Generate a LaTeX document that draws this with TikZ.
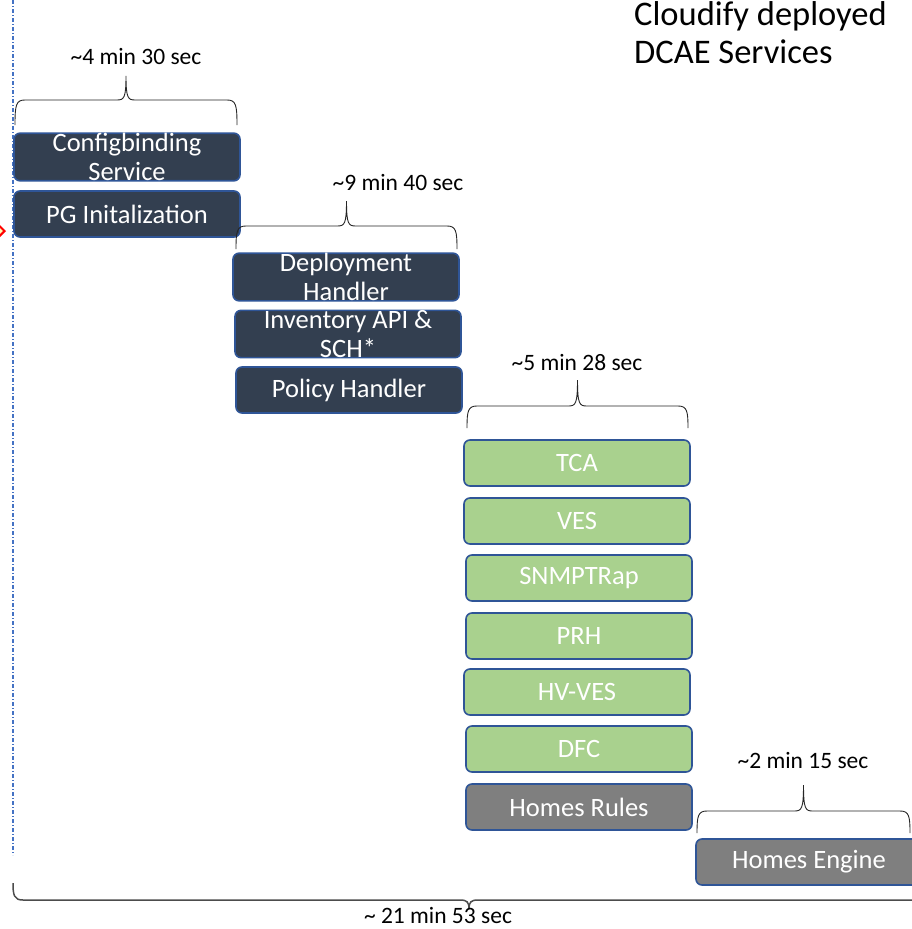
\documentclass[tikz,border=0pt]{standalone}
\usepackage{fontspec}
\setmainfont{Carlito}
\usetikzlibrary{shapes.geometric,calc}
\definecolor{navy}{HTML}{333F50}
\definecolor{bord}{HTML}{2F5597}
\definecolor{grn}{HTML}{A9D18E}
\definecolor{gry}{HTML}{7F7F7F}
\definecolor{vline}{HTML}{4472C4}
\tikzset{
  svc/.style={draw=bord, line width=1.6pt, rounded corners=6pt, minimum width=226pt, minimum height=46pt,
    inner sep=0pt, text=white, align=center, font=\fontsize{26.5}{29}\selectfont},
  darkbox/.style={svc, fill=navy},
  greenbox/.style={svc, fill=grn},
  graybox/.style={svc, fill=gry},
  bracelbl/.style={font=\fontsize{23.5}{27}\selectfont, text=black, inner sep=0pt},
  bracepen/.style={draw=black!85, line width=0.9pt},
}
% brace: xL xR yEnd yHoriz yTip
\newcommand\mybrace[6][bracepen]{%
  \pgfmathsetmacro\bxc{(#2+#3)/2}%
  \pgfmathsetmacro\bdir{(#6<#5)?1:-1}%
  \draw[#1] (#2,#4) .. controls (#2,#5+\bdir*5) and (#2+1,#5) .. (#2+10,#5)
    -- (\bxc-9,#5) .. controls (\bxc-2,#5) and (\bxc,#5-\bdir*2) .. (\bxc,#6)
    .. controls (\bxc,#5-\bdir*2) and (\bxc+2,#5) .. (\bxc+9,#5)
    -- (#3-10,#5) .. controls (#3-1,#5) and (#3,#5+\bdir*5) .. (#3,#4);%
}
\begin{document}
\begin{tikzpicture}[x=1pt, y=-1pt]
\useasboundingbox (0,0) rectangle (912,929);
\fill[white] (0,0) rectangle (912,929);

% vertical dash-dot line
\coordinate (vtop) at (13,0);
\coordinate (vbot) at (13,855);
\draw[vline, line width=1.1pt, dash pattern=on 4pt off 2pt on 1pt off 2pt] (vtop) -- (vbot);

% red diamond (mostly off canvas)
\node[diamond, draw=red, line width=2pt, fill=yellow!30, minimum width=22pt, minimum height=22pt, inner sep=0pt] (marker) at (-6,231) {};

% title
\node[anchor=north west, align=left, inner sep=0pt, font=\fontsize{34.5}{38.5}\selectfont] (title) at (634,1) {Cloudify deployed\\DCAE Services};

% phase 1
\node[darkbox] (cbs) at (127,157) {Configbinding\\Service};
\node[darkbox] (pg) at (127,214) {PG Initalization};
\mybrace{15}{237}{125}{100}{76}
\node[bracelbl] (l1) at (136,57) {\char`\~4 min 30 sec};

% phase 2
\node[darkbox] (dh) at (346,277) {Deployment\\Handler};
\node[darkbox] (inv) at (348,334) {Inventory API \&\\SCH*};
\node[darkbox] (ph) at (349,390) {Policy Handler};
\mybrace{236}{457}{249}{226}{201}
\node[bracelbl] (l2) at (398,182) {\char`\~9 min 40 sec};

% phase 3
\node[greenbox] (tca) at (577,463) {TCA};
\node[greenbox] (ves) at (577,521) {VES};
\node[greenbox] (snmp) at (579,578) {SNMPTRap};
\node[greenbox] (prh) at (579,636) {PRH};
\node[greenbox] (hv) at (577,692) {HV-VES};
\node[greenbox] (dfc) at (579,749) {DFC};
\node[graybox] (hr) at (579,807) {Homes Rules};
\mybrace{467}{688}{428}{406}{380}
\node[bracelbl] (l3) at (577,362) {\char`\~5 min 28 sec};

% phase 4
\node[graybox] (he) at (809,862) {Homes Engine};
\mybrace{697}{910}{833}{811}{785}
\node[bracelbl] (l4) at (803,760) {\char`\~2 min 15 sec};

% total
\mybrace[draw=black!70, line width=1.5pt]{13}{925}{883}{900}{909}
\node[bracelbl] (lt) at (438,915) {\char`\~{} 21 min 53 sec};
\end{tikzpicture}
\end{document}
